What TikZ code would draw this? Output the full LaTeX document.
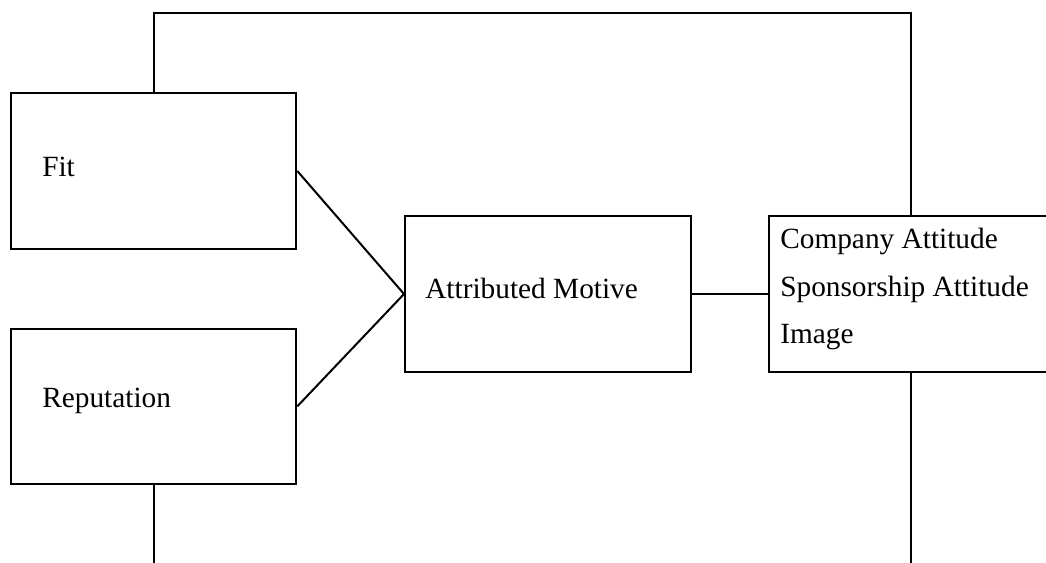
\documentclass[tikz,border=0pt]{standalone}
\usepackage{fontspec}
\setmainfont{Liberation Serif}
\begin{document}
\begin{tikzpicture}[x=0.75pt,y=-0.75pt,
  box/.style={draw,line width=1.5pt,rectangle,inner sep=0pt,anchor=north west},
  lbl/.style={inner sep=0pt,anchor=base west,font=\fontsize{22}{34}\selectfont},
  conn/.style={line width=1.5pt}]
\useasboundingbox (0,0) rectangle (1046,563);
\node[box,minimum width=214pt,minimum height=117pt] (fit) at (10,92) {};
\node[box,minimum width=214pt,minimum height=116pt] (rep) at (10,328) {};
\node[box,minimum width=214.5pt,minimum height=117pt] (mot) at (404,215) {};
\node[box,minimum width=213pt,minimum height=117pt] (res) at (768,215) {};
\node[lbl] (tfit) at (42,176) {Fit};
\node[lbl] (trep) at (42,407) {Reputation};
\node[lbl] (tmot) at (425,298) {Attributed Motive};
\node[lbl] (tc) at (780,248) {Company Attitude};
\node[lbl] (ts) at (780,296) {Sponsorship Attitude};
\node[lbl] (ti) at (780,343) {Image};
\coordinate (topy) at (0,13);
\coordinate (boty) at (0,570);
\draw[conn] (fit.east) -- (mot.west);
\draw[conn] (rep.east) -- (mot.west);
\draw[conn] (mot.east) -- (mot.east -| res.west);
\draw[conn] (fit.north) -- (fit.north |- topy) -- (res.north |- topy) -- (res.north);
\draw[conn] (rep.south) -- (rep.south |- boty);
\draw[conn] (res.south) -- (res.south |- boty);
\end{tikzpicture}
\end{document}
